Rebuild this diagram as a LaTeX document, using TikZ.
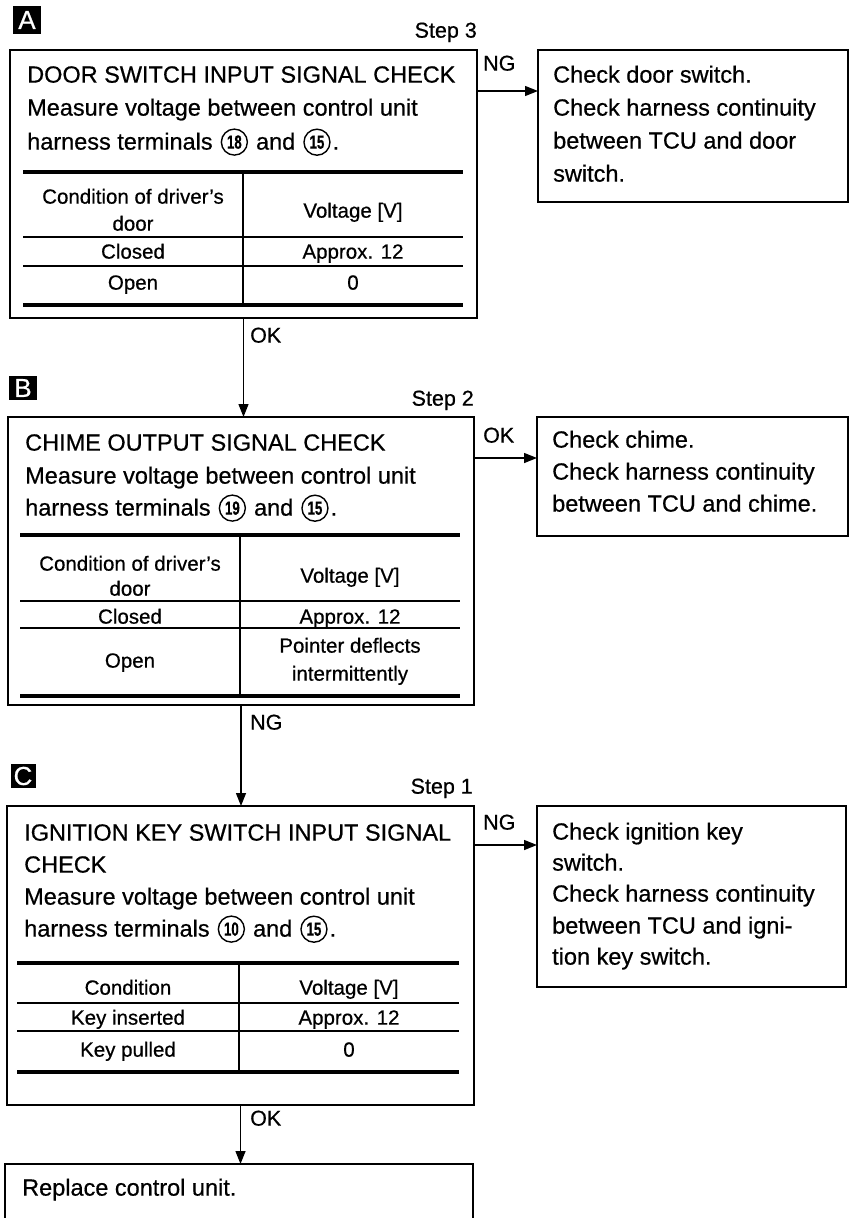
\documentclass[tikz,border=0pt]{standalone}
\usepackage{fontspec}
\setmainfont{Liberation Sans}[FakeBold=0.6]
\usepackage{graphicx}
\usetikzlibrary{arrows.meta}
\newcommand\cnum[2]{\tikz[baseline={([yshift=-1pt]#1.base)}]\node[cnumsty](#1){\scalebox{0.7}[1]{#2}};}
\tikzset{
 box/.style={draw, line width=1.4pt, inner sep=0pt, outer sep=0pt, anchor=north west},
 txt/.style={anchor=mid west, yshift=-5pt, inner sep=0pt, font=\fontsize{23.5}{28}\selectfont},
 rtxt/.style={anchor=mid west, yshift=-5pt, inner sep=0pt, font=\fontsize{23.5}{28}\selectfont},
 tcell/.style={anchor=mid, yshift=-5pt, inner sep=0pt, font=\fontsize{20.5}{24}\selectfont},
 lbl/.style={anchor=mid west, yshift=-5pt, inner sep=0pt, font=\fontsize{21.5}{26}\selectfont},
 steplbl/.style={anchor=mid east, yshift=-5pt, inner sep=0pt, font=\fontsize{21.5}{26}\selectfont},
 letterbox/.style={fill=black, text=white, inner sep=0pt, font=\fontsize{26}{26}\selectfont},
 arr/.style={line width=1.4pt, -{Triangle[length=13pt,width=10pt]}},
 tablethick/.style={line width=3.8pt},
 tablethin/.style={line width=1.6pt},
 cnumsty/.style={draw, circle, line width=1.4pt, inner sep=0pt, minimum size=26pt, font=\fontsize{19}{19}\selectfont\bfseries}
}
\begin{document}
\begin{tikzpicture}[x=1pt,y=-1pt]
\useasboundingbox (0,0) rectangle (856,1218);
\clip (0,0) rectangle (856,1218);

% ---------------- A ----------------
\node[letterbox, minimum width=28pt, minimum height=28pt] (LA) at (27,20) {A};
\node[steplbl] (S3) at (477,30) {Step 3};
\node[box, minimum width=467pt, minimum height=268pt] (BA) at (10,50) {};
\node[txt] (A1) at (27,75) {DOOR SWITCH INPUT SIGNAL CHECK};
\node[txt] (A2) at (27,108) {Measure voltage between control unit};
\node[txt] (A3) at (27,142) {harness terminals\hspace{8pt}\cnum{na18}{18}\hspace{8pt}and\hspace{8pt}\cnum{na15}{15}\hspace{2pt}.};
\draw[tablethick] (23,172) -- (463,172);
\draw[tablethin] (23,237) -- (463,237);
\draw[tablethin] (23,266) -- (463,266);
\draw[tablethick] (23,305) -- (463,305);
\draw[tablethin] (243,172) -- (243,305);
\node[tcell] (TA1) at (133,196) {Condition of driver's};
\node[tcell] (TA2) at (133,223) {door};
\node[tcell] (TA3) at (353,210) {Voltage [V]};
\node[tcell] (TA4) at (133,251) {Closed};
\node[tcell] (TA5) at (353,251) {Approx. 12};
\node[tcell] (TA6) at (133,282) {Open};
\node[tcell] (TA7) at (353,282) {0};

\node[box, minimum width=310pt, minimum height=152pt] (RA) at (538,50) {};
\node[rtxt] (RA1) at (553,75) {Check door switch.};
\node[rtxt] (RA2) at (553,108) {Check harness continuity};
\node[rtxt] (RA3) at (553,141) {between TCU and door};
\node[rtxt] (RA4) at (553,174) {switch.};
\draw[arr] ([yshift=-41pt]BA.north east) -- ([yshift=-41pt]BA.north east -| RA.west);
\node[lbl] (NGA) at (483,63) {NG};

% ---------------- B ----------------
\node[letterbox, minimum width=28pt, minimum height=24pt] (LB) at (23,388) {B};
\node[steplbl] (S2) at (474,398) {Step 2};
\node[box, minimum width=466pt, minimum height=288pt] (BB) at (8,417) {};
\draw[arr] (BA.south) -- (BA.south |- BB.north);
\node[lbl] (OKA) at (250,335) {OK};
\node[txt] (B1) at (25,443) {CHIME OUTPUT SIGNAL CHECK};
\node[txt] (B2) at (25,476) {Measure voltage between control unit};
\node[txt] (B3) at (25,508) {harness terminals\hspace{8pt}\cnum{nb19}{19}\hspace{8pt}and\hspace{8pt}\cnum{nb15}{15}\hspace{2pt}.};
\draw[tablethick] (20,535) -- (460,535);
\draw[tablethin] (20,601) -- (460,601);
\draw[tablethin] (20,628) -- (460,628);
\draw[tablethick] (20,696) -- (460,696);
\draw[tablethin] (240,535) -- (240,696);
\node[tcell] (TB1) at (130,563) {Condition of driver's};
\node[tcell] (TB2) at (130,588) {door};
\node[tcell] (TB3) at (350,575) {Voltage [V]};
\node[tcell] (TB4) at (130,616) {Closed};
\node[tcell] (TB5) at (350,616) {Approx. 12};
\node[tcell] (TB6) at (130,660) {Open};
\node[tcell] (TB7) at (350,645) {Pointer deflects};
\node[tcell] (TB8) at (350,673) {intermittently};

\node[box, minimum width=311pt, minimum height=119pt] (RB) at (537,417) {};
\node[rtxt] (RB1) at (552,440) {Check chime.};
\node[rtxt] (RB2) at (552,472) {Check harness continuity};
\node[rtxt] (RB3) at (552,504) {between TCU and chime.};
\draw[arr] ([yshift=-41pt]BB.north east) -- ([yshift=-41pt]BB.north east -| RB.west);
\node[lbl] (OKB) at (483,435) {OK};

% ---------------- C ----------------
\node[letterbox, minimum width=25pt, minimum height=24pt] (LC) at (23,776) {C};
\node[steplbl] (S1) at (473,786) {Step 1};
\node[box, minimum width=467pt, minimum height=299pt] (BC) at (7,806) {};
\draw[arr] (BB.south) -- (BB.south |- BC.north);
\node[lbl] (NGB) at (250,722) {NG};
\node[txt] (C1) at (24,833) {IGNITION KEY SWITCH INPUT SIGNAL};
\node[txt] (C2) at (24,865) {CHECK};
\node[txt] (C3) at (24,897) {Measure voltage between control unit};
\node[txt] (C4) at (24,929) {harness terminals\hspace{8pt}\cnum{nc10}{10}\hspace{8pt}and\hspace{8pt}\cnum{nc15}{15}\hspace{2pt}.};
\draw[tablethick] (17,963) -- (459,963);
\draw[tablethin] (17,1003) -- (459,1003);
\draw[tablethin] (17,1031) -- (459,1031);
\draw[tablethick] (17,1072) -- (459,1072);
\draw[tablethin] (239,963) -- (239,1072);
\node[tcell] (TC1) at (128,987) {Condition};
\node[tcell] (TC2) at (349,987) {Voltage [V]};
\node[tcell] (TC3) at (128,1017) {Key inserted};
\node[tcell] (TC4) at (349,1017) {Approx. 12};
\node[tcell] (TC5) at (128,1049) {Key pulled};
\node[tcell] (TC6) at (349,1049) {0};

\node[box, minimum width=309pt, minimum height=181pt] (RC) at (537,806) {};
\node[rtxt] (RC1) at (552,832) {Check ignition key};
\node[rtxt] (RC2) at (552,863) {switch.};
\node[rtxt] (RC3) at (552,894) {Check harness continuity};
\node[rtxt] (RC4) at (552,926) {between TCU and igni-};
\node[rtxt] (RC5) at (552,957) {tion key switch.};
\draw[arr] ([yshift=-39pt]BC.north east) -- ([yshift=-39pt]BC.north east -| RC.west);
\node[lbl] (NGC) at (483,822) {NG};

% ---------------- final ----------------
\node[box, minimum width=468pt, minimum height=72pt] (BF) at (5,1164) {};
\draw[arr] (BC.south) -- (BC.south |- BF.north);
\node[lbl] (OKC) at (250,1118) {OK};
\node[txt] (F1) at (22,1188) {Replace control unit.};
\end{tikzpicture}
\end{document}
